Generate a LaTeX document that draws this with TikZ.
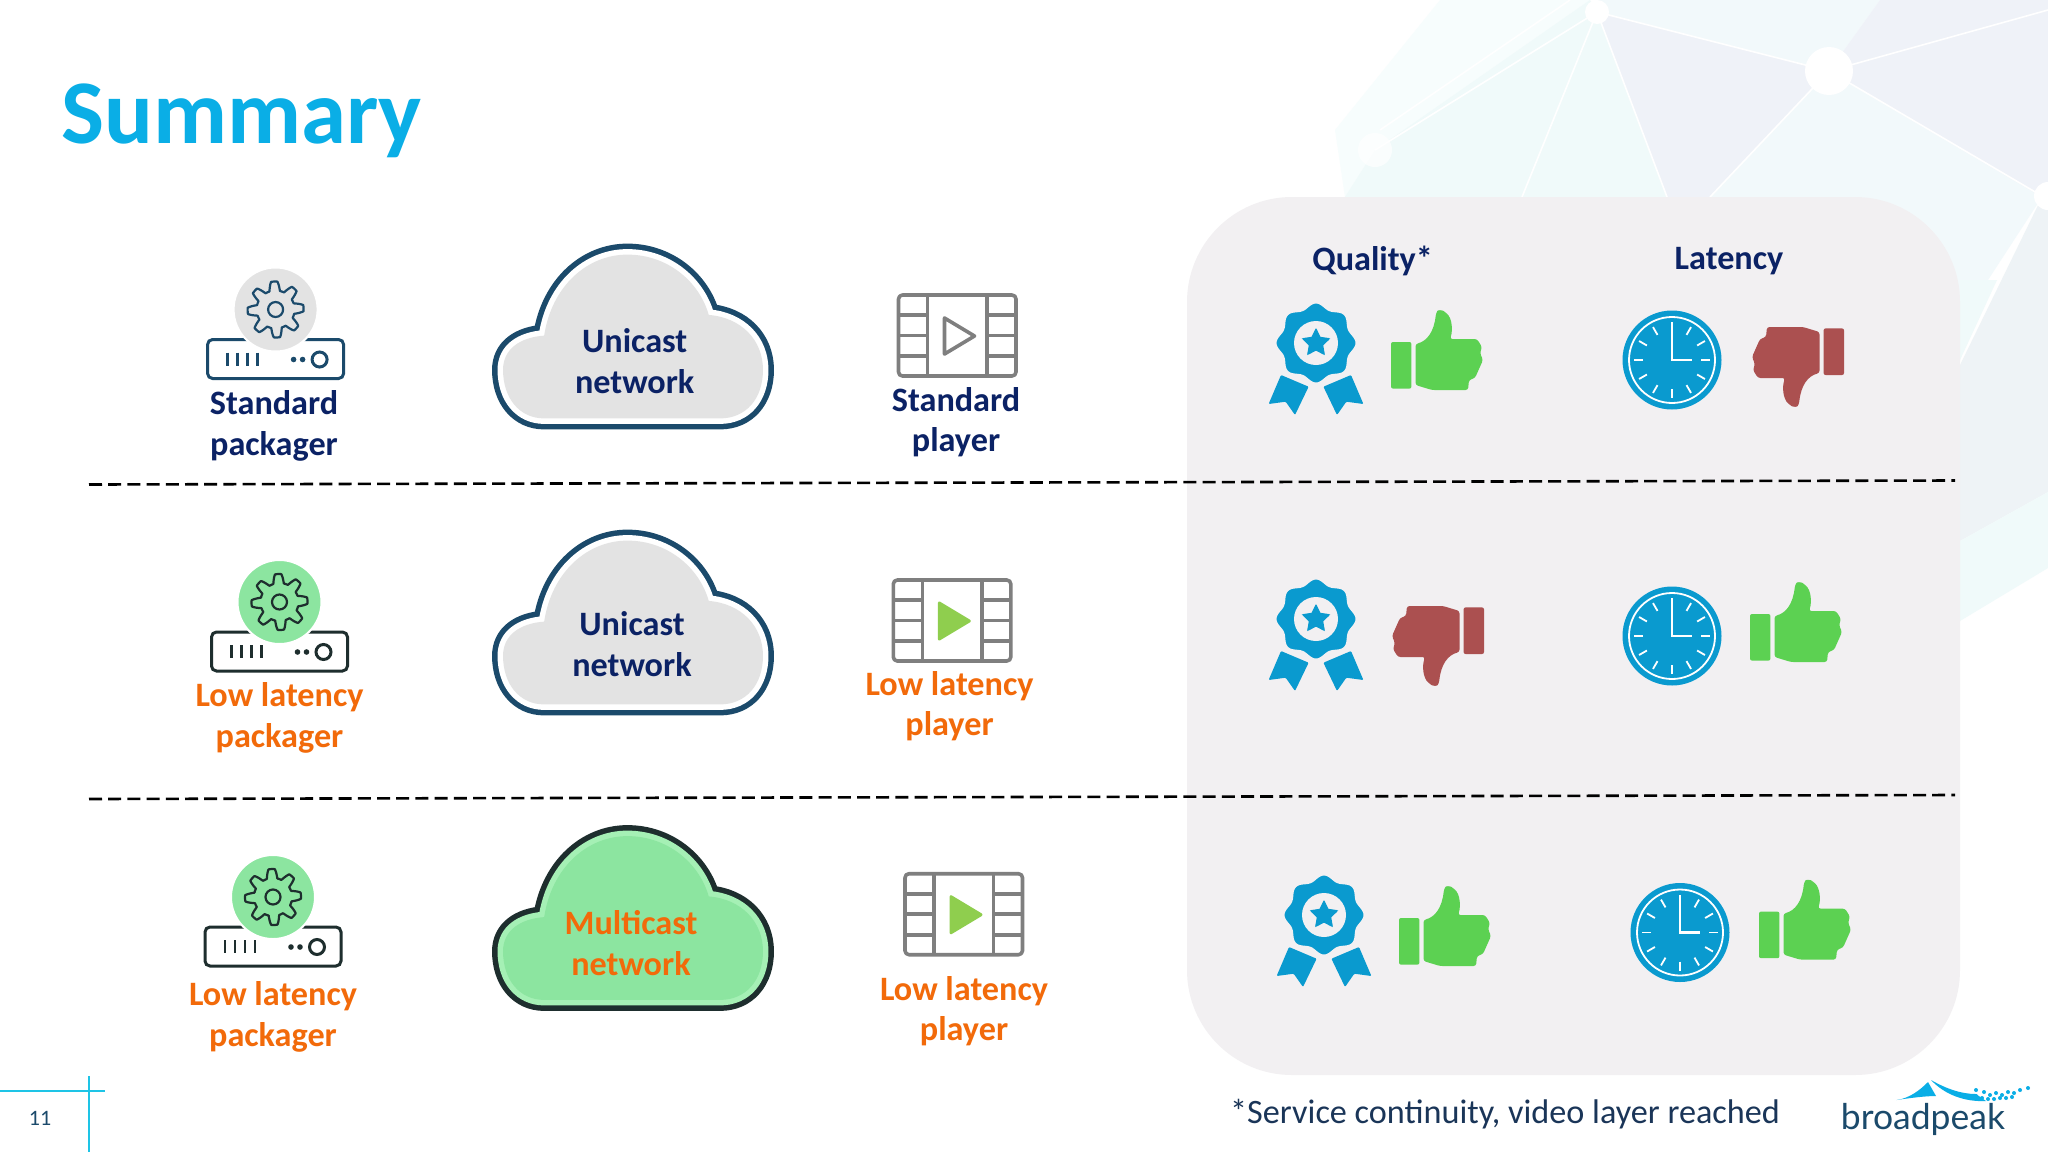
\documentclass[tikz,border=0pt]{standalone}
\usepackage{fontspec}
\setmainfont{Carlito}
\newfontfamily\logofont{Lato}
\usetikzlibrary{calc}
\definecolor{titleblue}{HTML}{0AAEE6}
\definecolor{navytext}{HTML}{0B2265}
\definecolor{footnavy}{HTML}{1A3558}
\definecolor{lowlat}{HTML}{F26A0A}
\definecolor{panelgray}{HTML}{F2F0F2}
\definecolor{softgray}{HTML}{E3E3E3}
\definecolor{softgreen}{HTML}{8CE5A0}
\definecolor{rimgreen}{HTML}{A5F0B5}
\definecolor{iconnavy}{HTML}{1B4A6B}
\definecolor{icondark}{HTML}{1E2E2E}
\definecolor{iconblue}{HTML}{0A9ACF}
\definecolor{thumbgreen}{HTML}{5CD152}
\definecolor{thumbred}{HTML}{AB5050}
\definecolor{filmgray}{HTML}{7F7F7F}
\definecolor{playgreen}{HTML}{8FCE4E}
\definecolor{rulecyan}{HTML}{1EC4E6}
\definecolor{bgfaint}{HTML}{F7FDFD}
\definecolor{bgteal}{HTML}{F0FAFA}
\definecolor{bgblue}{HTML}{EFF2F8}
\definecolor{bgpale}{HTML}{F2F9FB}
\definecolor{bgslate}{HTML}{EEF3F6}
\newcommand{\cloudpath}{(44,90) .. controls (52,35) and (90,0) .. (133,0) .. controls (176,0) and (210,30) .. (220,67) .. controls (255,70) and (278,95) .. (278,128) .. controls (278,160) and (260,182) .. (232,182) -- (44,182) .. controls (18,182) and (0,160) .. (0,128) .. controls (0,105) and (18,92) .. (44,90) -- cycle}
\tikzset{
    boldlabel/.style={font=\bfseries\fontsize{34.2}{40.5}\selectfont, align=center, inner sep=0pt},
    navylabel/.style={boldlabel, text=navytext},
    orangelabel/.style={boldlabel, text=lowlat},
    divider/.style={line width=2.6pt, dash pattern=on 13pt off 6.2pt},
    filmline/.style={draw=filmgray, line width=3.6pt, line join=round},
    pics/packager/.style 2 args={code={
        \draw[#2, line width=3pt, rounded corners=5pt] (-68,30) rectangle (68,69);
        \draw[#2, line width=2.6pt] (-48,43)--(-48,56) (-38,43)--(-38,56) (-28,43)--(-28,56) (-18,43)--(-18,56);
        \fill[#2, radius=2.8] (18,50) circle;
        \fill[#2, radius=2.8] (27,50) circle;
        \draw[#2, line width=3pt, radius=7.5] (44,50) circle;
        \draw[fill=#1, draw=white, line width=2pt, radius=42] (0,0) circle;
        \draw[#2, line width=2.2pt, line join=round] plot[domain=0:360, samples=193] (\x:{23.5+4.5*max(min(1.6*cos(8*\x+22.5),1),-1)}) -- cycle;
        \draw[#2, line width=2.2pt, radius=7.5] (0,0) circle;
    }},
    pics/netcloud/.style n args={3}{code={
        \begin{scope}[shift={(139,91)}, xscale=0.935, yscale=0.9, shift={(-139,-91)}]
            \draw[#1, line width=22pt, line join=round] \cloudpath;
            \draw[#2, line width=11pt, line join=round] \cloudpath;
            \fill[#3] \cloudpath;
        \end{scope}
    }},
    pics/player/.style={code={
        \draw[filmline, rounded corners=4pt] (0,0) rectangle (117.5,81);
        \draw[filmline] (29,0)--(29,81) (88.5,0)--(88.5,81);
        \draw[filmline] (0,20)--(29,20) (0,40.5)--(29,40.5) (0,61)--(29,61);
        \draw[filmline] (88.5,20)--(117.5,20) (88.5,40.5)--(117.5,40.5) (88.5,61)--(117.5,61);
        \draw[#1] (46,23)--(76,41)--(46,59)--cycle;
    }},
    playopen/.style={filmline},
    playfull/.style={fill=playgreen, draw=playgreen, line width=3pt, line join=round},
    pics/medal/.style={code={
        \fill[iconblue, rounded corners=1pt] (-35,32)--(-7.4,43.7)--(-21,72)--(-30.3,58.7)--(-47.4,61)--cycle;
        \fill[iconblue, rounded corners=1pt] (35,32)--(7.4,43.7)--(21,72)--(30.3,58.7)--(47.4,61)--cycle;
        \draw[fill=iconblue, draw=panelgray, line width=3pt] plot[domain=0:360, samples=145, smooth] (\x:{38.5+2.5*cos(8*\x)}) -- cycle;
        \fill[panelgray, radius=22] (0,0) circle;
        \fill[iconblue, line join=round] (-90:15) -- (-54:6.5) -- (-18:15) -- (18:6.5) -- (54:15) -- (90:6.5) -- (126:15) -- (162:6.5) -- (198:15) -- (234:6.5) -- cycle;
        \draw[iconblue, line width=2pt, line join=round] (-90:13) -- (-54:6.5) -- (-18:13) -- (18:6.5) -- (54:13) -- (90:6.5) -- (126:13) -- (162:6.5) -- (198:13) -- (234:6.5) -- cycle;
    }},
    pics/clock/.style={code={
        \fill[iconblue, radius=49.5] (0,0) circle;
        \draw[white, line width=1.8pt, radius=43] (0,0) circle;
        \foreach \ang in {0,30,...,330}{
            \draw[white, line width=1.8pt] (\ang:29) -- (\ang:38);
        }
        \draw[white, line width=2.2pt] (0,-29) -- (0,0) -- (20,0);
    }},
    pics/thumb/.style={code={
        \fill[#1, rounded corners=2pt] (0,0) rectangle (20.4,46.6);
        \fill[#1, rounded corners=2.5pt] (24.5,2) .. controls (36,-1) and (43,-10) .. (45,-29) .. controls (47,-32) and (51,-32) .. (54,-30) .. controls (61,-24) and (62,-12) .. (59,-3) -- (86,-3) -- (91,5) -- (89,11) -- (92,18) -- (88,27) -- (84,36) -- (78,38) -- (77,48) -- (41,48) -- (24.5,43) -- cycle;
    }},
}
\begin{document}
\begin{tikzpicture}[x=1pt, y=-1pt]
        \useasboundingbox (0,0) rectangle (2048,1152);
        \fill[white] (0,0) rectangle (2048,1152);
        \fill[bgfaint] (1440,0) -- (1335,130) -- (1345,197) -- (1530,197) -- (1590,0) -- cycle;
        \fill[bgteal] (1597,12) -- (1522,197) -- (1667,197) -- cycle;
        \fill[bgteal] (1590,0) -- (1375,150) -- (1345,197) -- (1522,197) -- (1597,12) -- cycle;
        \fill[bgpale] (1597,0) -- (1597,12) -- (1829,71) -- (1880,0) -- cycle;
        \fill[bgblue] (1597,12) -- (1829,71) -- (1710,197) -- (1667,197) -- cycle;
        \fill[bgpale] (1829,71) -- (1710,197) -- (1850,300) -- (1975,300) -- (2042,197) -- cycle;
        \fill[bgblue] (1829,71) -- (1880,0) -- (2048,0) -- (2048,197) -- (2042,197) -- cycle;
        \fill[bgslate] (2042,197) -- (1960,365) -- (1960,541) -- (2048,492) -- (2048,197) -- cycle;
        \fill[bgteal] (1960,280) -- (1997,280) -- (1960,360) -- cycle;
        \fill[bgteal] (1960,541) -- (2048,492) -- (2048,568) -- (1960,621) -- cycle;
        \draw[white, line width=1.6pt] (1597,12)--(1375,150) (1597,12)--(1522,197) (1597,12)--(1667,197) (1597,12)--(1829,71) (1829,71)--(1710,197) (1829,71)--(2042,196) (1829,71)--(2048,10) (1570,0)--(1380,130);
        \fill[white, radius=12] (1597,12) circle;
        \fill[white, radius=24] (1829,71) circle;
        \fill[white, opacity=0.7, radius=17] (1375,150) circle;
        \fill[white, radius=14] (2048,196) circle;
        \fill[panelgray, rounded corners=105pt] (1187,197) rectangle (1960,1075);
        \node[anchor=base west, inner sep=0pt, text=titleblue, font=\bfseries\fontsize{91}{95}\selectfont] (title) at (61,143){Summary};
        \draw[divider] (89,484.5)--(1955,480.5);
        \draw[divider] (89,799)--(1955,795);
        \pic at (275.6,309.5){packager={softgray}{iconnavy}};
        \pic at (279.5,602){packager={softgreen}{icondark}};
        \pic at (273,897){packager={softgreen}{icondark}};
        \node[navylabel] (pkgone) at (274,426){Standard\\packager};
        \node[orangelabel] (pkgtwo) at (279.5,718){Low latency\\packager};
        \node[orangelabel] (pkgthree) at (273,1017){Low latency\\packager};
        \pic at (494,245.5){netcloud={iconnavy}{white}{softgray}};
        \pic at (494,531.5){netcloud={iconnavy}{white}{softgray}};
        \pic at (494,827){netcloud={icondark}{rimgreen}{softgreen}};
        \node[navylabel] (netone) at (634.7,361){Unicast\\network};
        \node[navylabel] (nettwo) at (632,644){Unicast\\network};
        \node[orangelabel] (netthree) at (631,943){Multicast\\network};
        \pic at (898.5,295){player=playopen};
        \pic at (893.3,580){player=playfull};
        \pic at (905,873.7){player=playfull};
        \node[navylabel] (plaone) at (956,422){Standard\\player};
        \node[orangelabel] (platwo) at (949.5,706){Low latency\\player};
        \node[orangelabel] (plathree) at (964,1011){Low latency\\player};
        \node[navylabel] (quality) at (1372.6,261){Quality*};
        \node[navylabel] (latency) at (1729,261){Latency};
        \pic at (1316,343){medal};
        \pic at (1316,619){medal};
        \pic at (1324,915){medal};
        \pic at (1672,360){clock};
        \pic at (1672,636){clock};
        \pic at (1680,932.5){clock};
        \pic at (1391,342){thumb=thumbgreen};
        \pic[rotate=180] at (1844,375){thumb=thumbred};
        \pic[rotate=180] at (1484,654){thumb=thumbred};
        \pic at (1750,614){thumb=thumbgreen};
        \pic at (1399,918){thumb=thumbgreen};
        \pic at (1759,911.6){thumb=thumbgreen};
        \node[anchor=west, inner sep=0pt, text=footnavy, font=\fontsize{34.2}{40}\selectfont] (footnote) at (1230,1114){*Service continuity, video layer reached};
        \draw[rulecyan, line width=2.2pt] (0,1091)--(105,1091);
        \draw[rulecyan, line width=2.2pt] (88.7,1076)--(88.7,1152);
        \node[text=iconnavy, inner sep=0pt, font=\fontsize{22}{25}\selectfont] (pagenum) at (40,1118){11};
        \node[text=iconnavy, inner sep=0pt, font=\logofont\fontsize{35.5}{40}\selectfont] (logo) at (1923,1119){broadpeak};
        \fill[titleblue] (1896.7,1100) .. controls (1910,1098) and (1920,1090) .. (1928,1082) -- (1936,1096) .. controls (1925,1096) and (1910,1098) .. (1896.7,1100) -- cycle;
        \fill[titleblue] (1931,1080) .. controls (1945,1088) and (1960,1094) .. (1976,1094) -- (1986,1101) .. controls (1965,1102) and (1945,1095) .. (1931,1080) -- cycle;
        \foreach \xx/\yy in {1976/1090,1984/1092,1990/1095,1996/1093,2002/1095,2008/1092,2014/1093,2020/1090,2028/1088,1976/1096,1982/1098,1988/1099,1994/1099,2000/1098,2006/1098,2012/1097}{
            \fill[titleblue, radius=2] (\xx,\yy) circle;
        }
    \end{tikzpicture}
\end{document}
